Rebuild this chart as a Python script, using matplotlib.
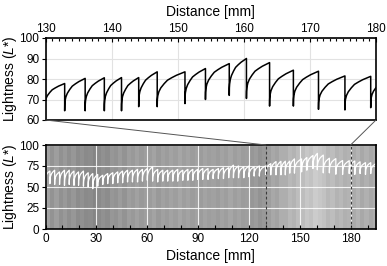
import numpy as np
import matplotlib
matplotlib.use("Agg")
import matplotlib.pyplot as plt
from matplotlib.patches import ConnectionPatch
from matplotlib.ticker import MultipleLocator

plt.rcParams['font.family'] = ['Liberation Sans', 'DejaVu Sans']
plt.rcParams['mathtext.fontset'] = 'custom'
plt.rcParams['mathtext.it'] = 'Liberation Sans:italic'
plt.rcParams['mathtext.rm'] = 'Liberation Sans'

# ---- data: sawtooth lightness profile (tooth start, minimum, peak) ----
tooth_start = [0.0, 2.6, 5.4, 8.3, 11.2, 14.0, 16.8, 19.5, 22.4, 25.2, 27.9,
               30.8, 33.8, 36.7, 39.7, 42.6, 45.5, 48.4, 51.3, 54.3, 57.2,
               60.1, 63.2, 66.2, 69.2, 72.1, 75.1, 78.0, 81.0, 84.0, 86.9,
               89.8, 92.8, 95.9, 98.9, 102.0, 105.0, 108.1, 110.9, 113.9, 117.0,
               120.1, 123.1, 126.2,
               129.9, 132.9, 136.0, 138.9, 141.5, 144.1, 146.9, 151.1, 154.2, 157.8,
               160.4, 163.9, 167.5, 171.3, 175.3, 179.2,
               182.5, 185.6, 188.8, 191.9]
tooth_end_last = 195.2
tooth_min = [57, 54, 53, 53, 52, 53, 52, 52, 51, 50, 48,
             51, 53, 54, 54, 55, 55, 56, 56, 56, 57,
             58, 57, 56, 57, 57, 57, 57, 58, 58, 58,
             59, 59, 59, 60, 60, 60, 61, 61, 61, 61,
             62, 63, 63,
             65, 64.5, 64.5, 64.5, 64.5, 66.5, 66.5, 68, 70, 72,
             70.5, 66.8, 66.8, 65.2, 64.9, 66,
             65, 66, 65, 66]
tooth_peak = [69, 70, 68, 70, 70, 69, 68, 69, 67, 66, 65,
              64, 66, 67, 68, 69, 70, 70, 71, 71, 72,
              74, 71, 70, 70, 70, 71, 70, 71, 71, 71,
              72, 72, 71, 72, 73, 73, 76, 75, 74, 75,
              74, 75, 75,
              77.8, 80.3, 80.6, 80.7, 80.7, 83.5, 83.5, 85.1, 87.5, 90,
              88, 84.3, 83.8, 81.5, 81.3, 81,
              80, 79, 79, 78]
# rise shape of one tooth (fraction of width -> fraction of height)
rise_frac = [0, 0.005, 0.02, 0.06, 0.13, 0.25, 0.37, 0.52, 0.69, 0.85, 1.0]
rise_level = [0, 0.20, 0.31, 0.43, 0.54, 0.66, 0.76, 0.83, 0.90, 0.95, 1.0]

# background sample image: gray level per 2.5 mm band (0..195 mm)
band_gray = [0.63, 0.58, 0.62, 0.57, 0.60, 0.56, 0.59, 0.55, 0.57, 0.54, 0.55, 0.52,
             0.54, 0.57, 0.55, 0.59, 0.58, 0.61, 0.58, 0.62, 0.60, 0.63, 0.60, 0.62,
             0.61, 0.64, 0.60, 0.63, 0.61, 0.64, 0.62, 0.65, 0.62, 0.64, 0.61, 0.63,
             0.61, 0.64, 0.62, 0.63, 0.61, 0.64, 0.62, 0.65, 0.62, 0.64, 0.61, 0.62,
             0.59, 0.61, 0.58, 0.60, 0.62, 0.66, 0.64, 0.68, 0.68, 0.72, 0.70, 0.74,
             0.74, 0.78, 0.76, 0.80, 0.78, 0.76, 0.72, 0.74, 0.70, 0.72, 0.69, 0.70,
             0.67, 0.70, 0.66, 0.69, 0.66, 0.68]

zoom_range = (130, 180)

# ---- build polyline ----
ends = tooth_start[1:] + [tooth_end_last]
fr = np.array(rise_frac)
lv = np.array(rise_level)
xs, ys = [], []
for s, e, m, p in zip(tooth_start, ends, tooth_min, tooth_peak):
    xs.append(s + fr * (e - s))
    ys.append(m + lv * (p - m))
x = np.concatenate(xs)
y = np.concatenate(ys)

W, H = 387, 266
fig = plt.figure(figsize=(W / 100, H / 100), dpi=100)
left = 45.5 / W
width = 330.5 / W
ax_top = fig.add_axes([left, 1 - 120 / H, width, 82 / H])
ax_bot = fig.add_axes([left, 1 - 229 / H, width, 84 / H])

fs_tick = 8.5
fs_lab = 10.0
ylab_x = (19.0 - 45.5) / 330.5

# ---- top panel ----
ax_top.plot(x, y, color='black', lw=1.1, zorder=3)
ax_top.set_xlim(*zoom_range)
ax_top.set_ylim(60, 100)
ax_top.xaxis.set_major_locator(MultipleLocator(10))
ax_top.xaxis.set_minor_locator(MultipleLocator(1))
ax_top.yaxis.set_major_locator(MultipleLocator(10))
ax_top.xaxis.tick_top()
ax_top.xaxis.set_label_position('top')
ax_top.tick_params(axis='x', which='both', top=True, bottom=False, direction='in',
                   labelsize=fs_tick, pad=2)
ax_top.tick_params(axis='x', which='major', length=3, width=0.8)
ax_top.tick_params(axis='x', which='minor', length=2, width=0.8)
ax_top.tick_params(axis='y', which='major', direction='out', length=3, width=0.8,
                   labelsize=fs_tick, pad=1.5)
ax_top.grid(True, which='major', color='#e2e2e2', lw=0.8)
ax_top.set_axisbelow(True)
ax_top.set_xlabel('Distance [mm]', fontsize=fs_lab, labelpad=5.5)
ax_top.set_ylabel('Lightness ($\\mathit{L}$*)', fontsize=fs_lab)
ax_top.yaxis.set_label_coords(ylab_x, 0.5)
for sp in ax_top.spines.values():
    sp.set_linewidth(1.2)

# ---- bottom panel ----
img = np.array(band_gray)[np.newaxis, :]
ax_bot.imshow(img, cmap='gray', vmin=0, vmax=1, aspect='auto',
              extent=[0, 2.5 * len(band_gray), 0, 100], interpolation='nearest', zorder=0)
ax_bot.plot(x, y, color='white', lw=0.9, zorder=3)
for xv in zoom_range:
    ax_bot.axvline(xv, color='#3a3a3a', lw=0.8, ls=(0, (2.5, 2)), zorder=4)
ax_bot.set_xlim(0, 195)
ax_bot.set_ylim(0, 100)
ax_bot.xaxis.set_major_locator(MultipleLocator(30))
ax_bot.xaxis.set_minor_locator(MultipleLocator(10))
ax_bot.yaxis.set_major_locator(MultipleLocator(25))
ax_bot.tick_params(axis='x', which='both', direction='in', labelsize=fs_tick, pad=3)
ax_bot.tick_params(axis='x', which='major', length=3, width=0.8)
ax_bot.tick_params(axis='x', which='minor', length=3, width=0.8)
ax_bot.tick_params(axis='y', which='major', direction='out', length=3, width=0.8,
                   labelsize=fs_tick, pad=1.5)
ax_bot.grid(True, which='major', color='white', lw=0.8, alpha=0.85, zorder=1)
ax_bot.set_xlabel('Distance [mm]', fontsize=fs_lab, labelpad=3)
ax_bot.set_ylabel('Lightness ($\\mathit{L}$*)', fontsize=fs_lab)
ax_bot.yaxis.set_label_coords(ylab_x, 0.5)
for sp in ax_bot.spines.values():
    sp.set_linewidth(1.2)
    sp.set_zorder(5)

# ---- connector lines ----
for xv in zoom_range:
    con = ConnectionPatch(xyA=(xv, 60), coordsA=ax_top.transData,
                          xyB=(xv, 100), coordsB=ax_bot.transData,
                          color='#555555', lw=0.7)
    fig.add_artist(con)

fig.savefig('out.png', dpi=100)
